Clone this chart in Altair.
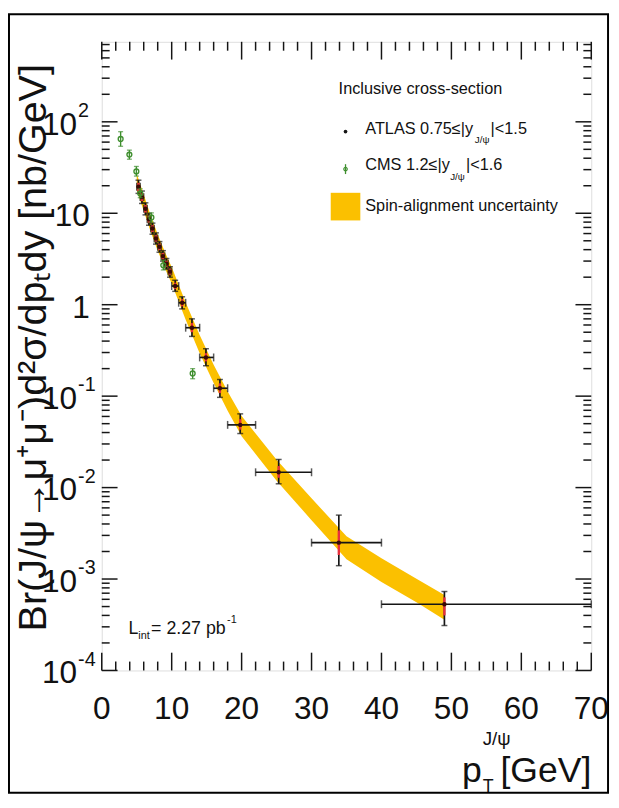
import altair as alt
import pandas as pd

FONT = "Liberation Sans, Arial, Helvetica, sans-serif"
W, H = 496, 637
BLACK = "#151515"
GREEN = "#3f8f2f"
GOLD = "#fbc000"
RED = "#e8303c"

# ---------------- data ----------------
atlas_pt = [5.25, 5.75, 6.25, 6.75, 7.25, 7.75, 8.25, 8.75, 9.25, 9.75, 10.5, 11.5, 12.9, 14.9, 16.9, 19.8, 25.3, 33.9, 49.0]
atlas_lo = [5.0, 5.5, 6.0, 6.5, 7.0, 7.5, 8.0, 8.5, 9.0, 9.5, 10, 11, 12, 14, 16, 18, 22, 30, 40]
atlas_hi = [5.5, 6.0, 6.5, 7.0, 7.5, 8.0, 8.5, 9.0, 9.5, 10.0, 11, 12, 14, 16, 18, 22, 30, 40, 70]
atlas_val = [19.5, 15, 11.2, 8.6, 6.8, 5.3, 4.3, 3.4, 2.8, 2.3, 1.6, 1.05, 0.56, 0.265, 0.122, 0.0485, 0.0147, 0.0025, 0.00053]
atlas_err_dn = [16.5, 12.8, 9.6, 7.4, 5.9, 4.6, 3.75, 3.0, 2.45, 2.0, 1.4, 0.9, 0.45, 0.215, 0.097, 0.039, 0.011, 0.0014, 0.00031]
atlas_err_up = [23, 17.5, 13, 10, 7.8, 6.1, 4.9, 3.9, 3.2, 2.6, 1.85, 1.22, 0.70, 0.33, 0.152, 0.064, 0.0203, 0.005, 0.00073]
atlas_sys_dn = [17.5, 13.6, 10.2, 7.9, 6.25, 4.9, 3.95, 3.15, 2.6, 2.13, 1.48, 0.96, 0.5, 0.24, 0.108, 0.043, 0.0128, 0.00183, 0.0004]
atlas_sys_up = [21.5, 16.5, 12.3, 9.4, 7.4, 5.75, 4.65, 3.68, 3.03, 2.48, 1.74, 1.15, 0.63, 0.295, 0.138, 0.056, 0.0172, 0.0034, 0.00063]

cms_pt = [2.7, 3.95, 4.95, 5.5, 7.1, 8.8, 13.0]
cms_val = [65, 43.8, 28.7, 16.5, 9.0, 2.7, 0.177]
cms_dn = [54, 39, 25.5, 14.8, 8.0, 2.4, 0.155]
cms_up = [78, 49, 32.5, 18.5, 10.1, 3.05, 0.2]

band_pt = [5.0, 6, 7, 8, 9, 10, 12, 14, 16, 18, 20, 25, 30, 35, 40, 45, 49]
band_lo = [17.9, 10.6, 6.26, 3.90, 2.52, 1.71, 0.683, 0.294, 0.139, 0.0691, 0.0365, 0.0119, 0.0044, 0.00165, 0.000927, 0.000556, 0.000359]
band_hi = [27.1, 16.0, 9.47, 5.90, 3.81, 2.58, 1.058, 0.466, 0.220, 0.1121, 0.0605, 0.0202, 0.00764, 0.00293, 0.00169, 0.00101, 0.000669]

x_major = [0, 10, 20, 30, 40, 50, 60, 70]
x_minor = [v for v in range(2, 70, 2) if v % 10 != 0]
y_major = [1e-4, 1e-3, 1e-2, 1e-1, 1, 10, 100]
y_minor = [m * d for d in [1e-4, 1e-3, 1e-2, 1e-1, 1, 10, 100] for m in range(2, 10) if m * d <= 750]
y_exp_vals = [1e-4, 1e-3, 1e-2, 1e-1, 100]
y_exp_text = ["-4", "-3", "-2", "-1", "2"]
y_plain_vals = [1, 10]
y_plain_text = ["1", "10"]

# ---------------- tables ----------------
atlas = pd.DataFrame(dict(pt=atlas_pt, lo=atlas_lo, hi=atlas_hi, val=atlas_val,
                          edn=atlas_err_dn, eup=atlas_err_up, sdn=atlas_sys_dn, sup=atlas_sys_up))
cms = pd.DataFrame(dict(pt=cms_pt, val=cms_val, edn=cms_dn, eup=cms_up))
band = pd.DataFrame(dict(pt=band_pt, lo=band_lo, hi=band_hi))
xmaj = pd.DataFrame(dict(v=x_major, t=[str(v) for v in x_major]))
xmin = pd.DataFrame(dict(v=x_minor))
ymaj = pd.DataFrame(dict(v=y_major))
ymin = pd.DataFrame(dict(v=y_minor))
yexp = pd.DataFrame(dict(v=y_exp_vals, t=y_exp_text))
yplain = pd.DataFrame(dict(v=y_plain_vals, t=y_plain_text))
one = pd.DataFrame(dict(k=[0]))

xs = alt.Scale(domain=[0, 70], nice=False, zero=False)
ys = alt.Scale(type="log", domain=[1e-4, 750], nice=False)


def X(f):
    return alt.X(f, type="quantitative", scale=xs, axis=None)


def Y(f):
    return alt.Y(f, type="quantitative", scale=ys, axis=None)


def txt(s, x, y, size, align="left", baseline="alphabetic", angle=0, color="#111111"):
    return alt.Chart(one).mark_text(text=s, fontSize=size, font=FONT, align=align,
                                    baseline=baseline, angle=angle, color=color).encode(
        x=alt.value(x), y=alt.value(y))


layers = []

# spin-alignment band
layers.append(alt.Chart(band).mark_area(color=GOLD, opacity=1).encode(
    x=X("pt"), y=Y("lo"), y2=alt.Y2("hi")))

# ATLAS error bars
SW = 1.7
layers.append(alt.Chart(atlas).mark_rule(color=BLACK, strokeWidth=SW).encode(
    x=X("lo"), x2=alt.X2("hi"), y=Y("val")))
for f in ["lo", "hi"]:
    layers.append(alt.Chart(atlas).mark_tick(orient="vertical", size=8, thickness=1.5, color=BLACK).encode(
        x=X(f), y=Y("val")))
layers.append(alt.Chart(atlas).mark_rule(color=BLACK, strokeWidth=SW).encode(
    x=X("pt"), y=Y("edn"), y2=alt.Y2("eup")))
for f in ["edn", "eup"]:
    layers.append(alt.Chart(atlas).mark_tick(orient="horizontal", size=6, thickness=1.5, color=BLACK).encode(
        x=X("pt"), y=Y(f)))
layers.append(alt.Chart(atlas).mark_rule(color=RED, strokeWidth=2.4).encode(
    x=X("pt"), y=Y("sdn"), y2=alt.Y2("sup")))
layers.append(alt.Chart(atlas).mark_circle(size=20, color="#3a0a05", opacity=1).encode(
    x=X("pt"), y=Y("val")))

# CMS
layers.append(alt.Chart(cms).mark_rule(color=GREEN, strokeWidth=1.4).encode(
    x=X("pt"), y=Y("edn"), y2=alt.Y2("eup")))
for f in ["edn", "eup"]:
    layers.append(alt.Chart(cms).mark_tick(orient="horizontal", size=5, thickness=1.3, color=GREEN).encode(
        x=X("pt"), y=Y(f)))
layers.append(alt.Chart(cms).mark_point(shape="circle", filled=False, size=24, strokeWidth=1.4,
                                        color=GREEN, opacity=1).encode(x=X("pt"), y=Y("val")))

# inward ticks on all four sides
for L, df in [(18, xmaj), (9, xmin)]:
    layers.append(alt.Chart(df).mark_rule(color=BLACK, strokeWidth=1.5).encode(
        x=X("v"), y=alt.value(H), y2=alt.value(H - L)))
    layers.append(alt.Chart(df).mark_rule(color=BLACK, strokeWidth=1.5).encode(
        x=X("v"), y=alt.value(0), y2=alt.value(L)))
for L, df in [(16, ymaj), (8, ymin)]:
    layers.append(alt.Chart(df).mark_rule(color=BLACK, strokeWidth=1.5).encode(
        y=Y("v"), x=alt.value(0), x2=alt.value(L)))
    layers.append(alt.Chart(df).mark_rule(color=BLACK, strokeWidth=1.5).encode(
        y=Y("v"), x=alt.value(W), x2=alt.value(W - L)))

# tick labels
layers.append(alt.Chart(xmaj).mark_text(fontSize=32, font=FONT, align="center",
                                        baseline="alphabetic", color="#111111").encode(
    x=X("v"), y=alt.value(686), text="t:N"))
layers.append(alt.Chart(yexp).mark_text(text="10", fontSize=32, font=FONT, align="right",
                                        baseline="middle", dy=3, color="#111111").encode(
    y=Y("v"), x=alt.value(-25)))
layers.append(alt.Chart(yexp).mark_text(fontSize=20, font=FONT, align="left",
                                        baseline="middle", dy=-11, color="#111111").encode(
    y=Y("v"), x=alt.value(-24), text="t:N"))
layers.append(alt.Chart(yplain).mark_text(fontSize=32, font=FONT, align="right",
                                          baseline="middle", dy=3, color="#111111").encode(
    y=Y("v"), x=alt.value(-12), text="t:N"))

# axis titles
layers.append(txt("Br(J/\u03c8\u2192\u03bc\u207a\u03bc\u207b)d\u00b2\u03c3/dp\u209cdy [nb/GeV]",
                  -69, 310, 40, align="center", baseline="middle", angle=270))
layers.append(txt("[GeV]", 496, 750, 36, align="right"))
layers.append(txt("p", 385, 750, 36, align="right"))
layers.append(txt("J/\u03c8", 386, 713, 19))
layers.append(txt("T", 386, 760, 18))

# legend
layers.append(txt("Inclusive cross-section", 240, 53, 16.5))
layers.append(alt.Chart(one).mark_circle(size=14, color=BLACK, opacity=1).encode(
    x=alt.value(247), y=alt.value(91)))
layers.append(txt("ATLAS 0.75\u2264|y", 267, 93, 16.5))
layers.append(txt("J/\u03c8", 378, 103, 10))
layers.append(txt("|<1.5", 394, 93, 16.5))
layers.append(alt.Chart(one).mark_rule(color=GREEN, strokeWidth=1.3).encode(
    x=alt.value(247), y=alt.value(124), y2=alt.value(134)))
layers.append(alt.Chart(one).mark_point(shape="circle", filled=False, size=12, strokeWidth=1.2,
                                        color=GREEN, opacity=1).encode(
    x=alt.value(247), y=alt.value(129)))
layers.append(txt("CMS 1.2\u2264|y", 267, 130, 16.5))
layers.append(txt("J/\u03c8", 353, 140, 10))
layers.append(txt("|<1.6", 369, 130, 16.5))
layers.append(alt.Chart(one).mark_rect(color=GOLD, opacity=1).encode(
    x=alt.value(232), x2=alt.value(262), y=alt.value(153), y2=alt.value(181)))
layers.append(txt("Spin-alignment uncertainty", 267, 171, 16.5))

# luminosity
layers.append(txt("L", 27, 600, 18))
layers.append(txt("int", 37, 605, 11))
layers.append(txt("= 2.27 pb", 50, 600, 18))
layers.append(txt("-1", 127, 589, 11))

# outer picture frame
layers.append(alt.Chart(one).mark_rect(fillOpacity=0, stroke="black", strokeWidth=2).encode(
    x=alt.value(-94), x2=alt.value(513), y=alt.value(-28), y2=alt.value(761)))

chart = alt.layer(*layers).properties(
    width=W, height=H,
    autosize=alt.AutoSizeParams(type="none"),
    padding={"left": 95, "top": 29, "right": 20, "bottom": 126},
).configure_view(stroke="black", strokeWidth=2).configure(background="white")

chart.save("out.html", embed_options={"renderer": "svg", "actions": False})
